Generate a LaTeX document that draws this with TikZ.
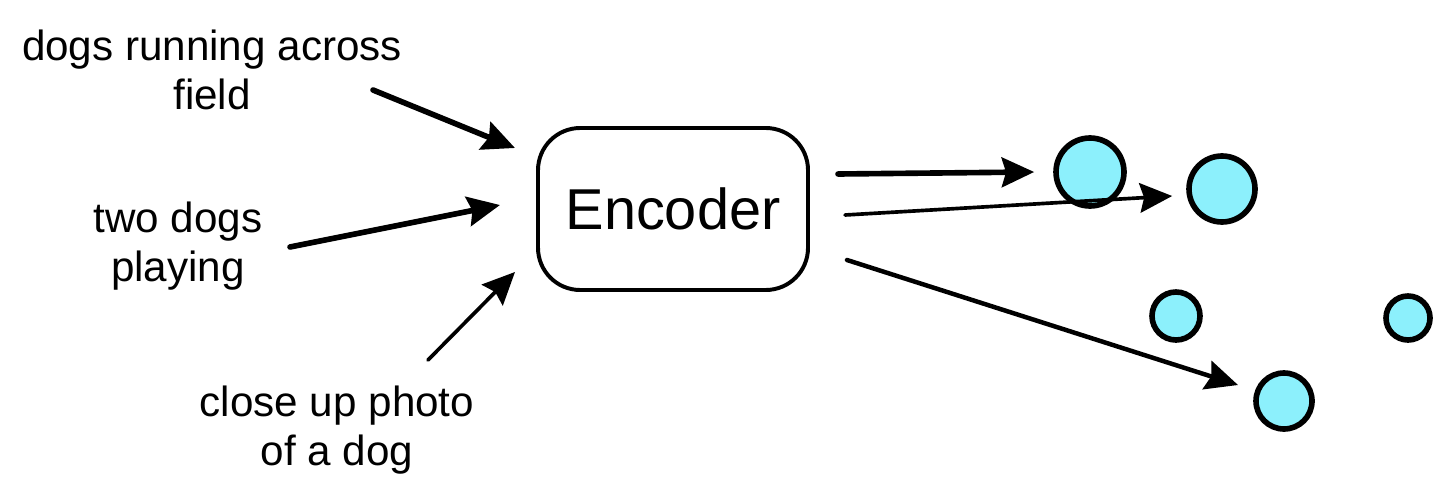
\documentclass[tikz,border=0pt]{standalone}
\usepackage{fontspec}
\setmainfont{Liberation Sans}
\usetikzlibrary{arrows.meta, positioning}

\definecolor{dotfill}{HTML}{8CF0FC}

\begin{document}
\begin{tikzpicture}[
    x=0.025cm, y=-0.025cm,
    >={Stealth[length=23pt, width=21pt, inset=3pt]},
    label/.style={align=center, font=\fontsize{30}{35}\selectfont},
    arr/.style={->, line width=4pt, line cap=round},
    thinarr/.style={->, line width=2.6pt, line cap=round},
    dot/.style={circle, draw, line width=4pt, fill=dotfill, inner sep=0pt}
  ]
  \useasboundingbox (0,0) rectangle (1450,499);

  % input captions
  \node[label] (t1) at (212,70) {dogs running across\\field};
  \node[label] (t2) at (178,246) {two dogs\\playing};
  \node[label] (t3) at (337,430) {close up photo\\of a dog};

  % encoder
  \node[draw, line width=2.8pt, rounded corners=30pt, minimum width=270*0.025cm,
        minimum height=162*0.025cm, font=\fontsize{41}{44}\selectfont]
    (enc) at (673,209) {Encoder};

  % embeddings
  \node[dot, minimum size=68*0.025cm] (e1) at (1090,172) {};
  \node[dot, minimum size=66*0.025cm] (e2) at (1222,189) {};
  \node[dot, minimum size=48*0.025cm] (e3) at (1176,316) {};
  \node[dot, minimum size=44*0.025cm] (e4) at (1408,318) {};
  \node[dot, minimum size=56*0.025cm] (e5) at (1284,401) {};

  \coordinate (a1) at (373,90);
  \coordinate (a2) at (290,247);
  \coordinate (a3) at (428,360);
  \coordinate (b1) at (515,148);
  \coordinate (b2) at (500,205);
  \coordinate (b3) at (515,272);
  \coordinate (o1) at (838,174);
  \coordinate (o2) at (845,215);
  \coordinate (o3) at (847,260);

  \draw[arr] (a1) -- (b1);
  \draw[arr] (a2) -- (b2);
  \draw[thinarr] (a3) -- (b3);

  \draw[arr] (o1) -- ([xshift=-19*0.025cm]e1.west);
  \draw[thinarr] (o2) -- ([xshift=-14*0.025cm, yshift=-7*0.025cm]e2.west);
  \draw[arr, line width=3.2pt] (o3) -- (1238,385);
\end{tikzpicture}
\end{document}
